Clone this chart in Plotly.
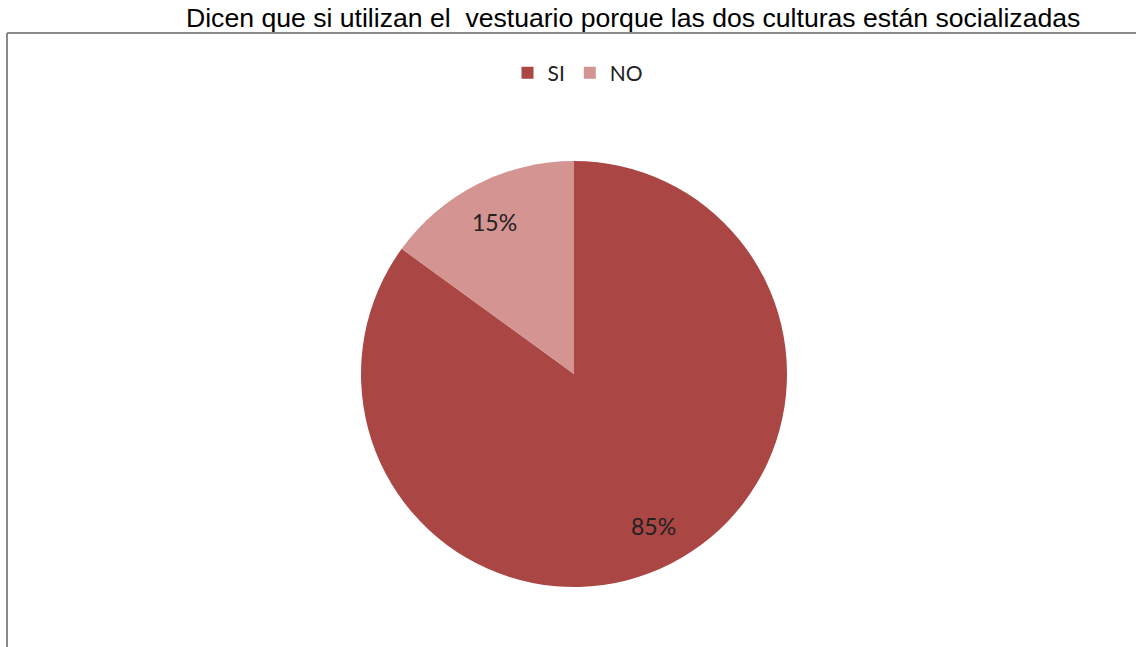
import math
import plotly.graph_objects as go

W, H = 1136, 647

labels = ["SI", "NO"]
values = [85, 15]
colors = ["#AA4644", "#D39492"]
title_text = "Dicen que si utilizan el  vestuario porque las dos culturas están socializadas"

# pie placement in pixels
cx, cy, rad = 574, 374, 213


def px_x(x):
    return x / W


def px_y(y):
    return 1 - y / H


fig = go.Figure(go.Pie(
    labels=labels,
    values=values,
    sort=False,
    direction="clockwise",
    rotation=0,
    marker=dict(colors=colors),
    textinfo="none",
    domain=dict(x=[px_x(cx - rad), px_x(cx + rad)], y=[px_y(cy + rad), px_y(cy - rad)]),
    hoverinfo="label+percent",
))

# percentage labels, placed like the Excel data labels (outer part of each slice)
total = sum(values)
notes = []
acc = 0
for v in values:
    mid = (acc + v / 2) / total * 2 * math.pi
    acc += v
    lx = cx + 0.82 * rad * math.sin(mid)
    ly = cy - 0.80 * rad * math.cos(mid)
    notes.append(dict(
        text=f"{round(v / total * 100)}%",
        x=px_x(lx), y=px_y(ly), xref="paper", yref="paper",
        xanchor="center", yanchor="middle", showarrow=False,
        font=dict(family="Lato, sans-serif", size=23, color="#222222"),
    ))

notes.append(dict(
    text=title_text,
    x=px_x(633), y=px_y(18),
    xref="paper", yref="paper",
    xanchor="center", yanchor="middle",
    showarrow=False,
    font=dict(family="Liberation Sans, Arial, sans-serif", size=26.6, color="#000000"),
))

fig.update_layout(
    width=W,
    height=H,
    margin=dict(l=0, r=0, t=0, b=0),
    paper_bgcolor="white",
    plot_bgcolor="white",
    showlegend=True,
    legend=dict(
        orientation="h",
        x=px_x(578), xanchor="center",
        y=px_y(73), yanchor="middle",
        font=dict(family="Lato, sans-serif", size=21, color="#222222"),
        itemwidth=30,
        traceorder="normal",
    ),
    annotations=notes,
    shapes=[
        dict(type="line", xref="paper", yref="paper",
             x0=px_x(7), y0=px_y(33), x1=1, y1=px_y(33),
             line=dict(color="#8a8a8a", width=2)),
        dict(type="line", xref="paper", yref="paper",
             x0=px_x(7), y0=px_y(33), x1=px_x(7), y1=0,
             line=dict(color="#8a8a8a", width=2)),
    ],
)

fig.write_html("out.html", config={"displayModeBar": False},
               post_script="document.body.style.margin='0';")
